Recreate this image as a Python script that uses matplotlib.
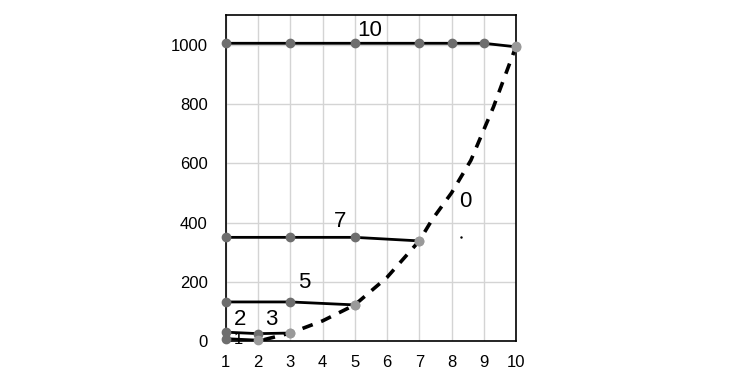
import numpy as np
import matplotlib.pyplot as plt

plt.rcParams['font.family'] = ['Liberation Sans', 'DejaVu Sans']

# curve 0 (dashed)
x0 = [2.2, 3, 4, 5, 6, 7, 7.4, 8, 8.6, 9.3, 10]
y0 = [5, 27, 68, 122, 215, 338, 410, 500, 610, 790, 995]
x0_pts = [3, 5, 7, 10]
y0_pts = [27, 122, 338, 995]

# solid curves
x10 = [1, 3, 5, 7, 8, 9, 10]
y10 = [1005, 1005, 1005, 1005, 1005, 1005, 993]
x7 = [1, 3, 5, 7]
y7 = [350, 350, 350, 338]
x5 = [1, 3, 5]
y5 = [132, 132, 122]
x3 = [1, 2, 3]
y3 = [30, 25, 27]
x1 = [1, 2, 2.2]
y1 = [8, 3, 5]

labels = ['10', '7', '5', '3', '2', '1', '0']
lab_x = [5.47, 4.54, 3.42, 2.4, 1.43, 1.4, 8.42]
lab_y = [1047, 405, 196, 73, 73, 4, 470]
lab_size = [16, 16, 16, 16, 16, 12, 16]

fig = plt.figure(figsize=(7.33, 3.88), dpi=100)
ax = fig.add_axes([0.308, 0.121, 0.396, 0.84])

ax.plot(x0, y0, color='black', lw=2.6, ls=(0, (3, 2.5)), zorder=3)
ax.plot(x10, y10, color='black', lw=2, zorder=3)
ax.plot(x7, y7, color='black', lw=2, zorder=3)
ax.plot(x5, y5, color='black', lw=2, zorder=3)
ax.plot(x3, y3, color='black', lw=2, zorder=3)
ax.plot(x1, y1, color='black', lw=2, zorder=3)

for xs, ys in [(x10, y10), (x7, y7), (x5, y5), (x3, y3), (x1[:2], y1[:2])]:
    ax.plot(xs[:-1], ys[:-1], 'o', color='#6e6e6e', ms=6, zorder=4, clip_on=False)
    ax.plot(xs[-1:], ys[-1:], 'o', color='#9a9a9a', ms=6, zorder=4, clip_on=False)
ax.plot(x0_pts, y0_pts, 'o', color='#9a9a9a', ms=6, zorder=4, clip_on=False)

for t, tx, ty, s in zip(labels, lab_x, lab_y, lab_size):
    ax.text(tx, ty, t, fontsize=s, ha='center', va='center', zorder=2)
ax.plot([8.3], [350], '.', color='black', ms=1.5)

ax.set_xlim(1, 10)
ax.set_ylim(0, 1100)
ax.set_xticks(range(1, 11))
ax.set_yticks(range(0, 1001, 200))
ax.grid(True, color='#d4d4d4', lw=1)
ax.set_axisbelow(True)
ax.tick_params(axis='y', length=0, labelsize=12, pad=13)
ax.tick_params(axis='x', length=0, labelsize=12, pad=10)
for s in ax.spines.values():
    s.set_color('black')
    s.set_linewidth(1.2)

fig.savefig('out.png', dpi=100)
